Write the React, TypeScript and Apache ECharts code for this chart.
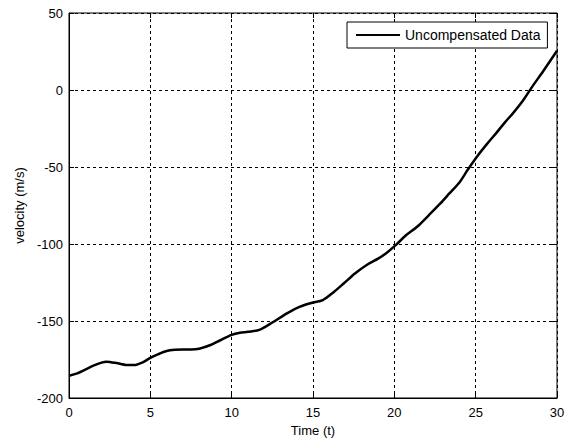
import React, { useEffect, useRef } from "react";
import * as echarts from "echarts";

const timeValues = [0, 0.5, 1, 1.5, 2, 2.3, 3, 3.5, 4, 4.5, 5, 5.5, 6, 6.5, 7, 7.5, 8, 8.7, 9.3, 10, 10.5, 11, 11.7, 12.5, 13.4, 14.2, 15, 15.6, 16.3, 16.9, 17.6, 18.3, 19, 19.5, 20.1, 20.7, 21.4, 22.1, 22.8, 23.4, 24, 24.5, 25.1, 25.7, 26.3, 26.8, 27.3, 27.9, 28.5, 29.2, 30];
const velocityValues = [-185.5, -184, -181.5, -179, -177, -176.4, -177.5, -178.5, -178.6, -177, -174, -171.5, -169.5, -168.7, -168.5, -168.5, -168, -165.6, -162.5, -159, -157.6, -157, -155.8, -151, -145, -140.7, -138, -136.4, -131, -125.5, -119, -113.6, -109.5, -106, -100.6, -94.5, -88.8, -81.5, -74, -67, -60, -52, -43, -35, -27.5, -21, -15, -7, 2.5, 13, 25.5];
const seriesName = "Uncompensated Data";
const xTitle = "Time (t)";
const yTitle = "velocity (m/s)";

const FONT = "Liberation Sans";

export default function App() {
  const ref = useRef<HTMLDivElement>(null);
  useEffect(() => {
    if (!ref.current) return;
    const chart = echarts.init(ref.current, null, { renderer: "svg" });
    const data = timeValues.map((t, i) => [t, velocityValues[i]]);
    const tickStyle = { inside: true, length: 5, lineStyle: { color: "#000", width: 1 } };
    chart.setOption({
      animation: false,
      backgroundColor: "#fff",
      textStyle: { fontFamily: FONT },
      grid: { left: 69, right: 21, top: 13, bottom: 44, show: true, borderColor: "#000", borderWidth: 1, backgroundColor: "#fff" },
      legend: {
        data: [seriesName],
        left: 347,
        top: 22,
        backgroundColor: "#fff",
        borderColor: "#000",
        borderWidth: 1,
        borderRadius: 0,
        padding: [6, 7, 6, 9],
        itemWidth: 44,
        itemHeight: 12,
        itemGap: 0,
        icon: "path://M0,5 L44,5 L44,7 L0,7 Z",
        textStyle: { fontFamily: FONT, fontSize: 14, color: "#000" },
      },
      xAxis: [
        {
          type: "value",
          min: 0,
          max: 30,
          interval: 5,
          name: xTitle,
          nameLocation: "middle",
          nameGap: 21,
          nameTextStyle: { fontFamily: FONT, fontSize: 13, color: "#000" },
          axisLine: { show: true, onZero: false, lineStyle: { color: "#000", width: 1 } },
          axisTick: tickStyle,
          axisLabel: { fontFamily: FONT, fontSize: 13, color: "#000", margin: 8 },
          splitLine: { show: true, lineStyle: { color: "#000", width: 1, type: [3, 3] } },
        },
        {
          type: "value",
          position: "top",
          min: 0,
          max: 30,
          interval: 5,
          axisLine: { show: false, onZero: false },
          axisTick: tickStyle,
          axisLabel: { show: false },
          splitLine: { show: false },
        },
      ],
      yAxis: [
        {
          type: "value",
          min: -200,
          max: 50,
          interval: 50,
          name: yTitle,
          nameLocation: "middle",
          nameGap: 41,
          nameTextStyle: { fontFamily: FONT, fontSize: 13, color: "#000" },
          axisLine: { show: true, onZero: false, lineStyle: { color: "#000", width: 1 } },
          axisTick: tickStyle,
          axisLabel: { fontFamily: FONT, fontSize: 13, color: "#000", margin: 6 },
          splitLine: { show: true, lineStyle: { color: "#000", width: 1, type: [3, 3] } },
        },
        {
          type: "value",
          position: "right",
          min: -200,
          max: 50,
          interval: 50,
          axisLine: { show: false, onZero: false },
          axisTick: tickStyle,
          axisLabel: { show: false },
          splitLine: { show: false },
        },
      ],
      series: [
        {
          name: seriesName,
          type: "line",
          data,
          smooth: 0.3,
          showSymbol: false,
          lineStyle: { color: "#000", width: 2.5 },
          itemStyle: { color: "#000" },
        },
      ],
    });
    return () => chart.dispose();
  }, []);
  return <div ref={ref} style={{ width: 578, height: 442, position: "absolute", left: 0, top: 0 }} />;
}
